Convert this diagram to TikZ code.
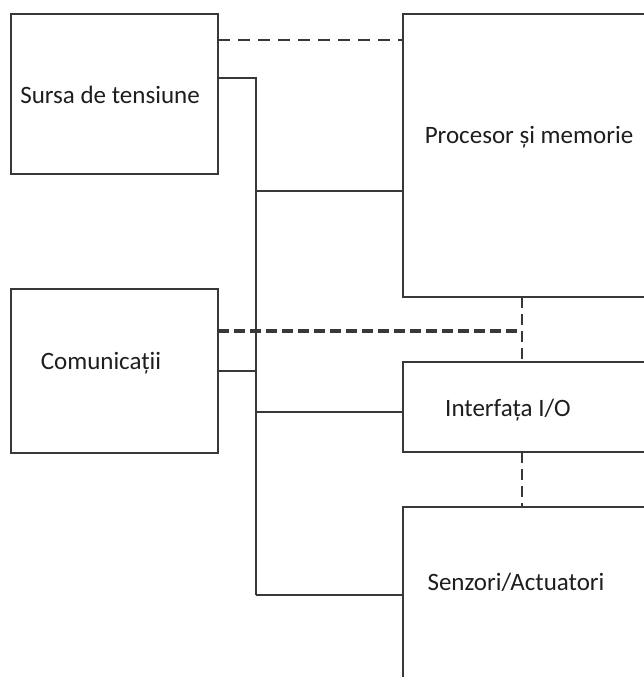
\documentclass[tikz,border=0pt]{standalone}
\usepackage{fontspec}
\setmainfont{Carlito}
\begin{document}
\begin{tikzpicture}[x=1pt,y=-1pt,
  box/.style={draw=linegray,line width=1.8pt,anchor=north west,inner sep=0pt,outer sep=0pt},
  lbl/.style={text=textgray,font=\fontsize{25}{30}\selectfont,inner sep=0pt},
  wire/.style={draw=linegray,line width=2pt},
  dashA/.style={draw=linegray,line width=2pt,dash pattern=on 12pt off 8pt},
  dashB/.style={draw=linegray,line width=3.2pt,dash pattern=on 11pt off 5pt},
  dashC/.style={draw=linegray,line width=2pt,dash pattern=on 11pt off 6pt}]
\definecolor{linegray}{HTML}{383838}
\definecolor{textgray}{HTML}{1E1E1E}
\useasboundingbox (0,0) rectangle (644,677);
\clip (0,0) rectangle (644,677);
\fill[white] (0,0) rectangle (644,677);
% boxes
\node[box,minimum width=207pt,minimum height=160pt] (sursa) at (11,14) {};
\node[box,minimum width=207pt,minimum height=164pt] (comm) at (11,289) {};
\node[box,minimum width=260pt,minimum height=283pt] (proc) at (403,14) {};
\node[box,minimum width=260pt,minimum height=90pt] (interf) at (403,362) {};
\node[box,minimum width=260pt,minimum height=200pt] (senz) at (403,507) {};
% labels
\node[lbl] (tsursa) at (110,95) {Sursa de tensiune};
\node[lbl] (tcomm) at (101,363) {Comunicații};
\node[lbl] (tproc) at (529,137) {Procesor și memorie};
\node[lbl] (tinterf) at (508,410) {Interfața I/O};
\node[lbl] (tsenz) at (516,582) {Senzori/Actuatori};
% bus coordinates
\coordinate (btop) at (256,78);
\coordinate (bbot) at (256,595);
% dashed links
\draw[dashA] ([yshift=-26pt]sursa.north east) -- ([yshift=-26pt]proc.north west);
\draw[dashB] ([yshift=-42pt]comm.north east) -- ([xshift=119pt,yshift=-42pt]comm.north east -| proc.south west) coordinate (dcorner);
\draw[dashC] ([xshift=119pt]proc.south west) -- ([xshift=119pt]interf.north west);
\draw[dashC] ([xshift=119pt]interf.south west) -- ([xshift=119pt]senz.north west);
% solid bus
\draw[wire] ([yshift=-64pt]sursa.north east) -- (btop) -- (bbot);
\draw[wire] ([yshift=-82pt]comm.north east) -- ([yshift=-82pt]comm.north east -| btop);
\draw[wire] ([yshift=-177pt]proc.north west -| btop) -- ([yshift=-177pt]proc.north west);
\draw[wire] ([yshift=-5pt]interf.west -| btop) -- ([yshift=-5pt]interf.west);
\draw[wire] (bbot) -- (bbot -| senz.west);
\end{tikzpicture}
\end{document}
